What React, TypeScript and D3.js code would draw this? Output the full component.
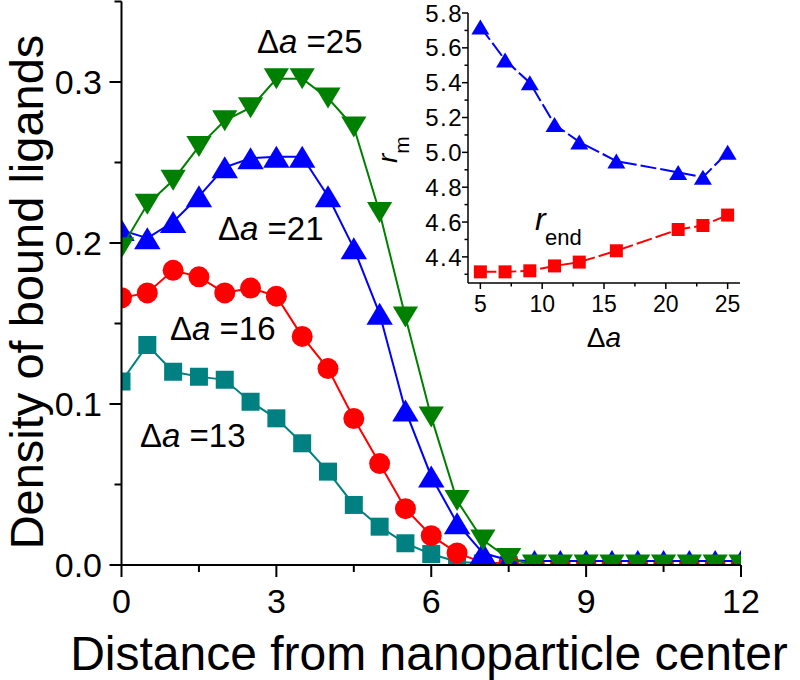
import React from "react";
import * as d3 from "d3";

const distance = [0, 0.5, 1, 1.5, 2, 2.5, 3, 3.5, 4, 4.5, 5, 5.5, 6, 6.5, 7, 7.5, 8, 8.5, 9, 9.5, 10, 10.5, 11, 11.5, 12];
const teal13 = [0.114, 0.1366, 0.12, 0.117, 0.115, 0.1014, 0.0911, 0.0756, 0.058, 0.0373, 0.0238, 0.0135, 0.0068, 0.002, 0.001, 0, 0, 0, 0, 0, 0, 0, 0, 0, 0];
const red16 = [0.166, 0.169, 0.183, 0.179, 0.169, 0.172, 0.167, 0.142, 0.122, 0.091, 0.063, 0.035, 0.0182, 0.0075, 0.0015, 0.001, 0, 0, 0, 0, 0, 0, 0, 0, 0];
const blue21 = [0.208, 0.203, 0.213, 0.229, 0.247, 0.2526, 0.2536, 0.2536, 0.229, 0.1967, 0.156, 0.096, 0.055, 0.026, 0.0074, 0.003, 0.0025, 0.0025, 0.0025, 0.0025, 0.0025, 0.0025, 0.0025, 0.0025, 0.0025];
const green25 = [0.197, 0.224, 0.239, 0.26, 0.276, 0.284, 0.302, 0.302, 0.29, 0.272, 0.219, 0.154, 0.092, 0.04, 0.0155, 0.004, 0, 0, 0, 0, 0, 0, 0, 0, 0];

const xMajor = [0, 3, 6, 9, 12];
const xMinor = [1.5, 4.5, 7.5, 10.5];
const yMajor = [0, 0.1, 0.2, 0.3];
const yMinor = [0.05, 0.15, 0.25, 0.35];

const deltaA = [5, 7, 9, 11, 13, 16, 21, 23, 25];
const rm = [5.72, 5.53, 5.4, 5.16, 5.06, 4.95, 4.885, 4.857, 5.0];
const rend = [4.314, 4.314, 4.32, 4.348, 4.37, 4.435, 4.557, 4.58, 4.64];
const insetXMajor = [5, 10, 15, 20, 25];
const insetXMinor = [7.5, 12.5, 17.5, 22.5];
const insetYMajor = [4.4, 4.6, 4.8, 5.0, 5.2, 5.4, 5.6, 5.8];
const insetYMinor = [4.3, 4.5, 4.7, 4.9, 5.1, 5.3, 5.5, 5.7];

const FONT = "'Liberation Sans', Arial, Helvetica, sans-serif";

type Marker = "square" | "circle" | "up" | "down";

function markerPath(kind: Marker, size: number): string {
  const s = size;
  if (kind === "square") return `M${-s / 2},${-s / 2}h${s}v${s}h${-s}Z`;
  if (kind === "up") { const w = s * 1.2, h = s; return `M0,${-h / 2}L${w / 2},${h / 2}L${-w / 2},${h / 2}Z`; }
  if (kind === "down") { const w = s * 1.2, h = s; return `M0,${h / 2}L${w / 2},${-h / 2}L${-w / 2},${-h / 2}Z`; }
  return "";
}

export default function App() {
  const W = 800, H = 680;
  const x = d3.scaleLinear().domain([0, 12]).range([121.5, 741]);
  const y = d3.scaleLinear().domain([0, 0.35]).range([565, 1.5]);
  const ix = d3.scaleLinear().domain([4, 26]).range([468, 740]);
  const iy = d3.scaleLinear().domain([4.25, 5.8]).range([283, 13]);

  const series: { vals: number[]; color: string; marker: Marker; size: number }[] = [
    { vals: teal13, color: "#008080", marker: "square", size: 18 },
    { vals: red16, color: "#ff0000", marker: "circle", size: 21 },
    { vals: blue21, color: "#0000ff", marker: "up", size: 22 },
    { vals: green25, color: "#008000", marker: "down", size: 21 },
  ];

  const line = d3.line<[number, number]>().x(d => d[0]).y(d => d[1]);

  const insetSeries: { vals: number[]; color: string; marker: Marker; size: number }[] = [
    { vals: rm, color: "#0000ff", marker: "up", size: 15 },
    { vals: rend, color: "#ff0000", marker: "square", size: 13 },
  ];

  const labels = [
    { t: "25", x: 257, y: 53 },
    { t: "21", x: 218, y: 240 },
    { t: "16", x: 170, y: 340 },
    { t: "13", x: 140, y: 447 },
  ];

  return (
    <svg width={W} height={H} style={{ position: "absolute", left: 0, top: 0, background: "#fff" }} fontFamily={FONT}>
      <defs>
        <clipPath id="plotClip">
          <rect x={x(0)} y={0} width={x(12) - x(0)} height={y(0)} />
        </clipPath>
      </defs>
      <rect width={W} height={H} fill="#fff" />

      {/* main series */}
      <g clipPath="url(#plotClip)">
        {series.map((s, si) => {
          const pts: [number, number][] = distance.map((d, i) => [x(d), y(s.vals[i])]);
          return (
            <g key={si}>
              <path d={line(pts) || ""} fill="none" stroke={s.color} strokeWidth={2} />
              {pts.map((p, i) =>
                s.marker === "circle" ? (
                  <circle key={i} cx={p[0]} cy={p[1]} r={s.size / 2} fill={s.color} />
                ) : (
                  <path key={i} d={markerPath(s.marker, s.size)} transform={`translate(${p[0]},${p[1]})`} fill={s.color} />
                )
              )}
            </g>
          );
        })}
      </g>

      {/* main axes */}
      <line x1={x(0)} x2={x(0)} y1={y(0.35)} y2={y(0)} stroke="#000" strokeWidth={2} />
      <line x1={x(0) - 1} x2={x(12)} y1={y(0)} y2={y(0)} stroke="#000" strokeWidth={2} />
      {xMajor.map(v => (
        <g key={"xm" + v}>
          <line x1={x(v)} x2={x(v)} y1={y(0)} y2={y(0) + 12} stroke="#000" strokeWidth={2} />
          <text x={x(v)} y={613} fontSize={34} textAnchor="middle">{v}</text>
        </g>
      ))}
      {xMinor.map(v => (
        <line key={"xn" + v} x1={x(v)} x2={x(v)} y1={y(0)} y2={y(0) + 7} stroke="#000" strokeWidth={2} />
      ))}
      {yMajor.map(v => (
        <g key={"ym" + v}>
          <line x1={x(0) - 12} x2={x(0)} y1={y(v)} y2={y(v)} stroke="#000" strokeWidth={2} />
          <text x={102} y={y(v)} dy="0.36em" fontSize={34} textAnchor="end">{d3.format(".1f")(v)}</text>
        </g>
      ))}
      {yMinor.map(v => (
        <line key={"yn" + v} x1={x(0) - 7} x2={x(0)} y1={y(v)} y2={y(v)} stroke="#000" strokeWidth={2} />
      ))}
      <text x={429} y={670} fontSize={48} textAnchor="middle">Distance from nanoparticle center</text>
      <text transform="translate(43,292) rotate(-90)" fontSize={47} textAnchor="middle">Density of bound ligands</text>

      {labels.map(l => (
        <text key={l.t} x={l.x} y={l.y} fontSize={33}>
          <tspan>Δ</tspan>
          <tspan fontStyle="italic">a</tspan>
          <tspan>{" =" + l.t}</tspan>
        </text>
      ))}

      {/* inset */}
      {insetSeries.map((s, si) => {
        const pts: [number, number][] = deltaA.map((d, i) => [ix(d), iy(s.vals[i])]);
        return (
          <g key={"in" + si}>
            <path d={line(pts) || ""} fill="none" stroke={s.color} strokeWidth={2} strokeDasharray="16,4" />
            {pts.map((p, i) => (
              <path key={i} d={markerPath(s.marker, s.size)} transform={`translate(${p[0]},${p[1]})`} fill={s.color} />
            ))}
          </g>
        );
      })}
      <line x1={ix(4)} x2={ix(4)} y1={iy(5.8)} y2={iy(4.25)} stroke="#000" strokeWidth={1.5} />
      <line x1={ix(4)} x2={ix(26)} y1={iy(4.25)} y2={iy(4.25)} stroke="#000" strokeWidth={1.5} />
      {insetXMajor.map(v => (
        <g key={"ixm" + v}>
          <line x1={ix(v)} x2={ix(v)} y1={iy(4.25)} y2={iy(4.25) + 6} stroke="#000" strokeWidth={1.5} />
          <text x={ix(v)} y={312} fontSize={23} textAnchor="middle">{v}</text>
        </g>
      ))}
      {insetXMinor.map(v => (
        <line key={"ixn" + v} x1={ix(v)} x2={ix(v)} y1={iy(4.25)} y2={iy(4.25) + 3.5} stroke="#000" strokeWidth={1.5} />
      ))}
      {insetYMajor.map(v => (
        <g key={"iym" + v}>
          <line x1={ix(4) - 6} x2={ix(4)} y1={iy(v)} y2={iy(v)} stroke="#000" strokeWidth={1.5} />
          <text x={463} y={iy(v)} dy="0.36em" fontSize={24} letterSpacing={1.5} textAnchor="end">{d3.format(".1f")(v)}</text>
        </g>
      ))}
      {insetYMinor.map(v => (
        <line key={"iyn" + v} x1={ix(4) - 3.5} x2={ix(4)} y1={iy(v)} y2={iy(v)} stroke="#000" strokeWidth={1.5} />
      ))}
      <text x={604} y={347} fontSize={28} textAnchor="middle">
        <tspan>Δ</tspan>
        <tspan fontStyle="italic">a</tspan>
      </text>
      <text transform="translate(397,163) rotate(-90)" fontSize={28}>
        <tspan fontStyle="italic">r</tspan>
        <tspan fontSize={21} dy={12}>m</tspan>
      </text>
      <text x={535} y={230} fontSize={32}>
        <tspan fontStyle="italic">r</tspan>
      </text>
      <text x={545} y={245} fontSize={22}>end</text>
    </svg>
  );
}
